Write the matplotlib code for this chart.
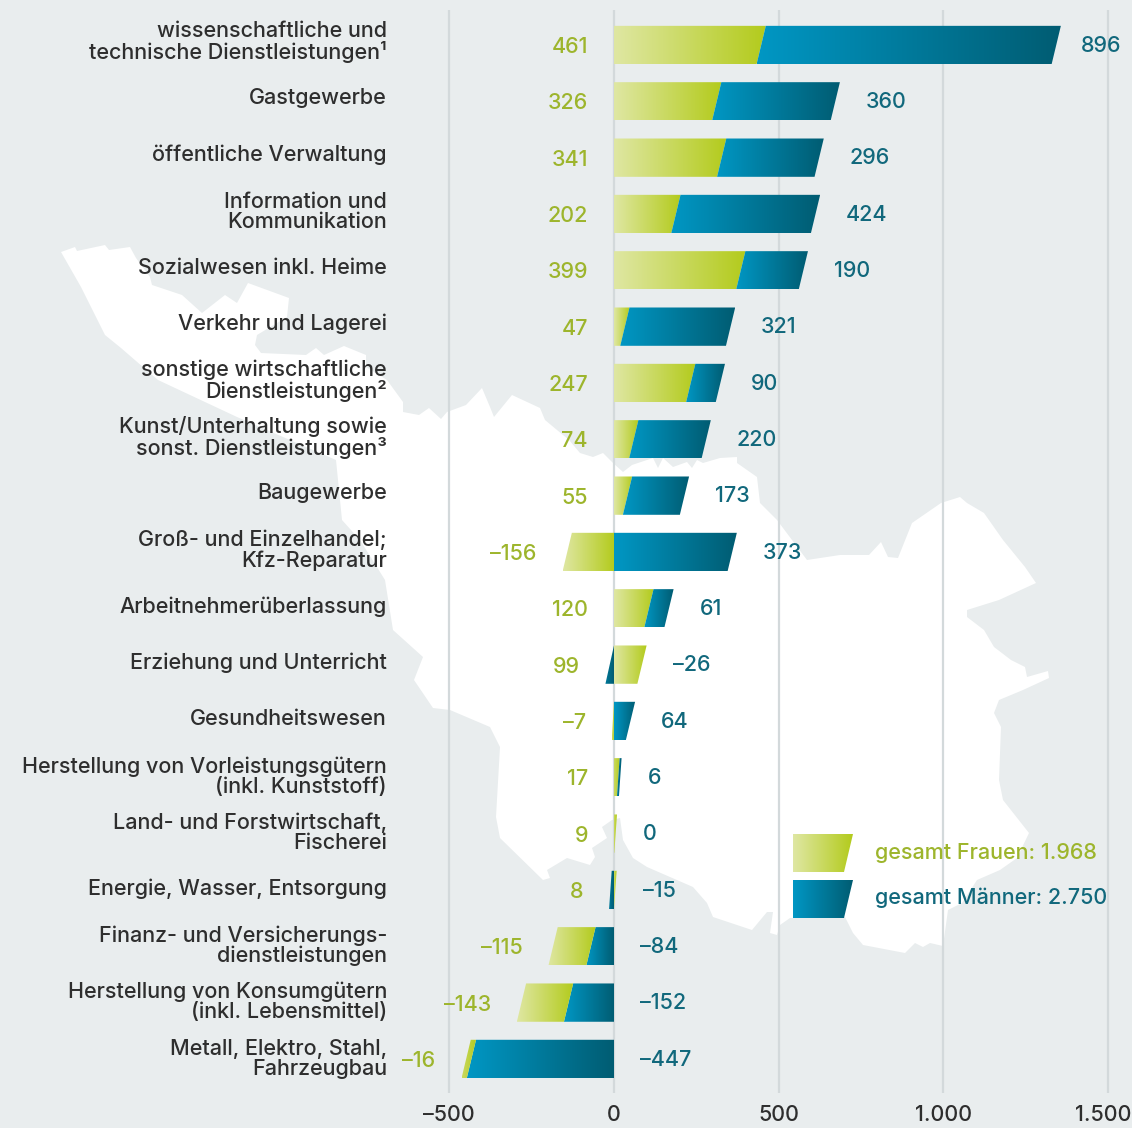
import matplotlib
matplotlib.use("Agg")
import matplotlib.pyplot as plt
import numpy as np
from matplotlib.colors import LinearSegmentedColormap
from matplotlib.patches import Polygon

plt.rcParams['font.family'] = ['Inter', 'DejaVu Sans']
plt.rcParams['font.weight'] = 500

categories = [
    "wissenschaftliche und\ntechnische Dienstleistungen¹",
    "Gastgewerbe",
    "öffentliche Verwaltung",
    "Information und\nKommunikation",
    "Sozialwesen inkl. Heime",
    "Verkehr und Lagerei",
    "sonstige wirtschaftliche\nDienstleistungen²",
    "Kunst/Unterhaltung sowie\nsonst. Dienstleistungen³",
    "Baugewerbe",
    "Groß- und Einzelhandel;\nKfz-Reparatur",
    "Arbeitnehmerüberlassung",
    "Erziehung und Unterricht",
    "Gesundheitswesen",
    "Herstellung von Vorleistungsgütern\n(inkl. Kunststoff)",
    "Land- und Forstwirtschaft,\nFischerei",
    "Energie, Wasser, Entsorgung",
    "Finanz- und Versicherungs-\ndienstleistungen",
    "Herstellung von Konsumgütern\n(inkl. Lebensmittel)",
    "Metall, Elektro, Stahl,\nFahrzeugbau",
]
frauen = [461, 326, 341, 202, 399, 47, 247, 74, 55, -156, 120, 99, -7, 17, 9, 8, -115, -143, -16]
maenner = [896, 360, 296, 424, 190, 321, 90, 220, 173, 373, 61, -26, 64, 6, 0, -15, -84, -152, -447]
ticks = [-500, 0, 500, 1000, 1500]
tick_labels = ["–500", "0", "500", "1.000", "1.500"]
legend_frauen = "gesamt Frauen: 1.968"
legend_maenner = "gesamt Männer: 2.750"

# white region outline behind the chart, in pixels
map_outline = [
    (61, 252), (75, 247), (77, 251), (105, 245), (109, 250), (130, 247), (136, 258), (150, 277),
    (152, 285), (182, 295), (202, 313), (225, 295), (237, 303), (248, 283), (289, 298), (287, 317),
    (257, 335), (255, 345), (261, 353), (306, 355), (316, 348), (324, 355), (344, 346), (366, 355),
    (366, 367), (387, 380), (403, 402), (403, 412), (419, 415), (429, 408), (441, 419), (447, 412),
    (466, 405), (482, 388), (490, 407), (494, 417), (512, 395), (540, 408), (545, 420), (569, 440),
    (580, 453), (593, 457), (603, 453), (613, 463), (623, 472), (632, 465), (653, 458), (658, 468),
    (663, 458), (673, 467), (687, 462), (692, 468), (697, 460), (703, 463), (720, 458), (737, 457),
    (737, 463), (757, 477), (760, 503), (777, 520), (792, 540), (807, 560), (840, 555), (869, 555),
    (881, 542), (888, 557), (898, 558), (912, 523), (941, 503), (960, 497), (967, 503), (984, 513),
    (1003, 540), (1025, 567), (1036, 583), (999, 600), (967, 610), (967, 617), (984, 630), (994, 647),
    (1011, 660), (1025, 667), (1027, 677), (1048, 671), (1049, 678), (1023, 690), (999, 700), (994, 713),
    (1001, 727), (999, 780), (1003, 800), (1029, 833), (1017, 858), (1000, 870), (977, 880), (962, 903),
    (948, 910), (943, 946), (930, 943), (923, 947), (915, 943), (905, 953), (863, 945), (853, 933),
    (845, 917), (790, 918), (780, 925), (777, 935), (770, 933), (773, 912), (767, 912), (752, 930),
    (713, 917), (707, 903), (693, 887), (647, 867), (633, 858), (623, 840), (620, 818), (612, 820),
    (602, 827), (607, 838), (592, 848), (595, 857), (590, 865), (567, 858), (547, 870), (550, 878),
    (543, 880), (500, 838), (496, 817), (500, 747), (490, 727), (450, 710), (433, 708), (414, 680),
    (423, 657), (393, 630), (385, 580), (360, 540), (342, 520), (336, 460), (237, 417), (158, 380),
    (121, 348), (105, 335), (81, 287),
]

BG = "#e9edee"
GRID = "#d3d9db"
TEXT = "#2e2e2e"
GREEN_TXT = "#9db52c"
TEAL_TXT = "#11687c"
cm_green = LinearSegmentedColormap.from_list("g", ["#dfe7a3", "#b3cb1c"])
cm_blue = LinearSegmentedColormap.from_list("b", ["#0097c4", "#005c72"])
PX = 0.3293  # pixels per data unit
SLANT = 28
H = 0.34
FS = 15.5
FS_CAT = 15.5

fig = plt.figure(figsize=(11.32, 11.28), dpi=100, facecolor=BG)


def px_axes(z):
    a = fig.add_axes([0, 0, 1, 1], zorder=z)
    a.set_xlim(0, 1132)
    a.set_ylim(1128, 0)
    a.axis("off")
    a.patch.set_alpha(0)
    return a


def grad_poly(a, pts, cmap, z=3, start=0.0):
    xs = [p[0] for p in pts]
    ys = [p[1] for p in pts]
    if max(xs) - min(xs) <= 0:
        return
    grad = np.linspace(start, 1, 256).reshape(1, -1)
    im = a.imshow(grad, cmap=cmap, vmin=0, vmax=1, aspect="auto", zorder=z, interpolation="bilinear",
                  extent=[min(xs), max(xs), max(ys), min(ys)])
    im.set_clip_path(Polygon(pts, closed=True, transform=a.transData))


def edge(v, s):
    # x of a segment end at the bar's top and bottom
    if v > 0:
        return v, max(v - s, 0)
    if v < 0:
        return min(v + s, 0), v
    return 0, 0


def segment(a, start, end, y, cmap, s):
    t0, b0 = edge(start, s)
    t1, b1 = edge(end, s)
    # narrow slivers keep the saturated end of the ramp
    ramp = 0.5 if abs(end - start) < 40 else 0.0
    grad_poly(a, [(t0, y - H), (t1, y - H), (b1, y + H), (b0, y + H)], cmap, start=ramp)


bg = px_axes(0)
bg.add_patch(Polygon(map_outline, closed=True, facecolor="white", edgecolor="none"))

ax = fig.add_axes([0, 0, 1, 1], zorder=1)
ax.patch.set_alpha(0)
ax.axis("off")
ax.set_xlim(-614 / PX, (1132 - 614) / PX)
ax.set_ylim((1128 - 45) / 56.33, -45 / 56.33)
ax.vlines(ticks, -0.62, 18.6, color=GRID, lw=1.6, zorder=1)

for i, (f, m) in enumerate(zip(frauen, maenner)):
    s = SLANT if abs(f) + abs(m) >= 50 else 8
    # same sign stacks, women sit next to zero when positive and outside when negative
    if f >= 0 and m >= 0:
        segment(ax, 0, f, i, cm_green, s)
        segment(ax, f, f + m, i, cm_blue, s)
    elif f < 0 and m < 0:
        segment(ax, 0, m, i, cm_blue, s)
        segment(ax, m, m + f, i, cm_green, s)
    else:
        segment(ax, 0, f, i, cm_green, s)
        segment(ax, 0, m, i, cm_blue, s)
    low = min(0, f) + min(0, m)
    high = max(0, f) + max(0, m)
    ax.text(low - 26 / PX, i + 0.035, str(f).replace("-", "–"), color=GREEN_TXT, fontsize=FS,
            ha="right", va="center", zorder=5)
    ax.text(min(high + 26 / PX, 1418), i + 0.01, str(m).replace("-", "–"), color=TEAL_TXT, fontsize=FS,
            ha="left", va="center", zorder=5)
    two_lines = "\n" in categories[i]
    ax.text((387 - 614) / PX, i - 0.06 + 0.0025 * i + (0.01 if two_lines else 0), categories[i],
            color=TEXT, fontsize=FS_CAT, ha="right", va="center", linespacing=1.0, zorder=5)

for t, lab in zip(ticks, tick_labels):
    if t == ticks[-1]:
        ax.text(1131 / PX - 614 / PX, (1115 - 45) / 56.33, lab, color=TEXT, fontsize=FS,
                ha="right", va="center", zorder=5)
    else:
        ax.text(t, (1115 - 45) / 56.33, lab, color=TEXT, fontsize=FS, ha="center", va="center", zorder=5)
ax.set_xlim(-614 / PX, (1132 - 614) / PX)
ax.set_ylim((1128 - 45) / 56.33, -45 / 56.33)

top = px_axes(2)
grad_poly(top, [(793, 834), (853, 834), (844, 872), (793, 872)], cm_green)
grad_poly(top, [(793, 880), (853, 880), (844, 918), (793, 918)], cm_blue)
top.text(875, 853, legend_frauen, color=GREEN_TXT, fontsize=FS, va="center", ha="left")
top.text(875, 898, legend_maenner, color=TEAL_TXT, fontsize=FS, va="center", ha="left")
top.set_xlim(0, 1132)
top.set_ylim(1128, 0)

fig.savefig("out.png", dpi=100, facecolor=BG)
